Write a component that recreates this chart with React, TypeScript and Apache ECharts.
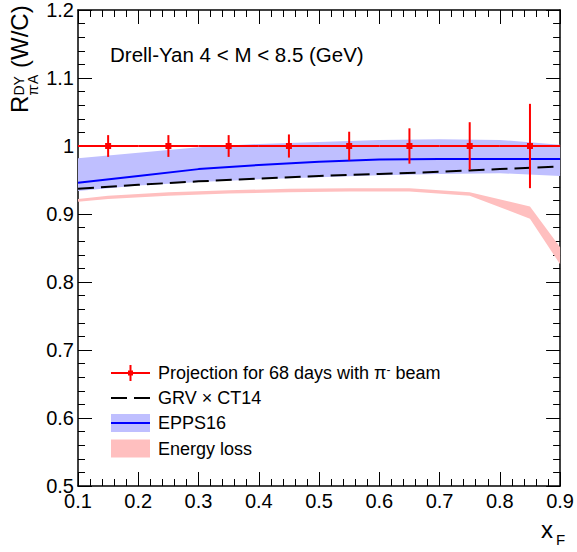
import React, { useEffect, useRef } from "react";
import * as echarts from "echarts";

// ---- data ----
const pointX = [0.15, 0.25, 0.35, 0.45, 0.55, 0.65, 0.75, 0.85];
const pointY = [1, 1, 1, 1, 1, 1, 1, 1];
const pointErrX = [0.05, 0.05, 0.05, 0.05, 0.05, 0.05, 0.05, 0.05];
const pointErrY = [0.016, 0.016, 0.016, 0.017, 0.021, 0.026, 0.035, 0.062];

const curveX = [0.1, 0.2, 0.3, 0.4, 0.5, 0.6, 0.7, 0.8, 0.9];
const grvCt14 = [0.937, 0.943, 0.948, 0.952, 0.956, 0.959, 0.962, 0.966, 0.97];
const eppsCentral = [0.946, 0.956, 0.966, 0.972, 0.977, 0.98, 0.981, 0.981, 0.981];
const eppsLow = [0.934, 0.942, 0.947, 0.951, 0.954, 0.957, 0.959, 0.96, 0.956];
const eppsHigh = [0.982, 0.99, 0.998, 1.003, 1.006, 1.009, 1.01, 1.009, 1.002];

const elossX = [0.1, 0.15, 0.25, 0.35, 0.45, 0.55, 0.65, 0.75, 0.85, 0.9];
const elossLow = [0.918, 0.922, 0.927, 0.93, 0.932, 0.933, 0.933, 0.927, 0.893, 0.826];
const elossHigh = [0.922, 0.927, 0.932, 0.935, 0.937, 0.938, 0.938, 0.932, 0.911, 0.851];

const xMin = 0.1, xMax = 0.9, xStep = 0.1;
const yMin = 0.5, yMax = 1.2, yStep = 0.1;

const legendLabels = ["Projection for 68 days with π", "GRV × CT14", "EPPS16", "Energy loss"];
const titleText = "Drell-Yan 4 < M < 8.5 (GeV)";

const FONT = "Liberation Sans, Arial, Helvetica, sans-serif";
const RED = "#ff0000";
const BLUE = "#0000ff";
const BLUE_BAND = "rgb(191,191,255)";
const RED_BAND = "rgb(255,191,191)";

function bandSeries(name: string, xs: number[], lo: number[], hi: number[], color: string, z: number) {
  return {
    name,
    type: "custom",
    coordinateSystem: "cartesian2d",
    z,
    silent: true,
    data: xs.map((x, i) => [x, lo[i], hi[i]]),
    encode: { x: 0, y: [1, 2] },
    renderItem: (params: any, api: any) => {
      if (params.dataIndex !== 0) return null;
      const pts: number[][] = [];
      for (let i = 0; i < xs.length; i++) pts.push(api.coord([xs[i], hi[i]]));
      for (let i = xs.length - 1; i >= 0; i--) pts.push(api.coord([xs[i], lo[i]]));
      return { type: "polygon", shape: { points: pts }, style: { fill: color, stroke: null } };
    },
  };
}

function axisCommon() {
  return {
    axisLine: { show: true, onZero: false, lineStyle: { color: "#000", width: 1.5 } },
    axisTick: { show: true, inside: true, length: 14, lineStyle: { color: "#000", width: 1 } },
    minorTick: { show: true, splitNumber: 5, length: 7, lineStyle: { color: "#000", width: 1 } },
    splitLine: { show: false },
    minorSplitLine: { show: false },
  };
}

export default function App() {
  const ref = useRef<HTMLDivElement>(null);
  useEffect(() => {
    if (!ref.current) return;
    const chart = echarts.init(ref.current, undefined, { renderer: "svg" });

    const legendRows = [373, 398, 423, 448.5];
    const lx0 = 111, lx1 = 150, ltx = 158;
    const LF = 18;

    const option: any = {
      animation: false,
      backgroundColor: "#fff",
      textStyle: { fontFamily: FONT },
      grid: { left: 78, right: 14, top: 6, bottom: 66, containLabel: false },
      xAxis: [
        {
          type: "value", position: "bottom", min: xMin, max: xMax, interval: xStep,
          ...axisCommon(),
          axisLabel: { show: true, color: "#000", fontSize: 20, fontFamily: FONT, margin: 5, showMinLabel: true, showMaxLabel: true },
        },
        {
          type: "value", position: "top", min: xMin, max: xMax, interval: xStep,
          ...axisCommon(),
          axisLabel: { show: false },
        },
      ],
      yAxis: [
        {
          type: "value", position: "left", min: yMin, max: yMax, interval: yStep,
          ...axisCommon(),
          axisLabel: { show: true, color: "#000", fontSize: 20, fontFamily: FONT, margin: 4, showMinLabel: true, showMaxLabel: true },
        },
        {
          type: "value", position: "right", min: yMin, max: yMax, interval: yStep,
          ...axisCommon(),
          axisLabel: { show: false },
        },
      ],
      series: [
        bandSeries("EPPS16 band", curveX, eppsLow, eppsHigh, BLUE_BAND, 1),
        {
          name: "EPPS16", type: "line", z: 2, symbol: "none", silent: true,
          data: curveX.map((x, i) => [x, eppsCentral[i]]),
          lineStyle: { color: BLUE, width: 2 },
        },
        {
          name: "GRV x CT14", type: "line", z: 3, symbol: "none", silent: true,
          data: curveX.map((x, i) => [x, grvCt14[i]]),
          lineStyle: { color: "#000", width: 2, type: [16, 7] },
        },
        bandSeries("Energy loss", elossX, elossLow, elossHigh, RED_BAND, 4),
        {
          name: "Projection", type: "custom", coordinateSystem: "cartesian2d", z: 5, silent: true,
          data: pointX.map((x, i) => [x, pointY[i], pointErrX[i], pointErrY[i]]),
          encode: { x: 0, y: 1 },
          renderItem: (params: any, api: any) => {
            const x = api.value(0), y = api.value(1), ex = api.value(2), ey = api.value(3);
            const c = api.coord([x, y]);
            const l = api.coord([x - ex, y]);
            const r = api.coord([x + ex, y]);
            const t = api.coord([x, y + ey]);
            const b = api.coord([x, y - ey]);
            return {
              type: "group",
              children: [
                { type: "line", shape: { x1: l[0], y1: l[1], x2: r[0], y2: r[1] }, style: { stroke: RED, lineWidth: 2 } },
                { type: "line", shape: { x1: t[0], y1: t[1], x2: b[0], y2: b[1] }, style: { stroke: RED, lineWidth: 2 } },
                { type: "rect", shape: { x: c[0] - 3, y: c[1] - 3, width: 6, height: 6 }, style: { fill: RED } },
              ],
            };
          },
        },
      ],
      graphic: [
        // title
        { type: "text", x: 110, y: 54, style: { text: titleText, fontSize: 20.5, fontFamily: FONT, fill: "#000", verticalAlign: "middle", align: "left" } },
        // y axis title (rotated)
        {
          type: "group", x: 28, y: 113, rotation: Math.PI / 2,
          children: [
            { type: "text", x: 0, y: -8.4, style: { text: "R", fontSize: 24, fontFamily: FONT, fill: "#000", verticalAlign: "middle", align: "left" } },
            { type: "text", x: 17.5, y: -9, style: { text: "DY", fontSize: 14, fontFamily: FONT, fill: "#000", verticalAlign: "middle", align: "left" } },
            { type: "text", x: 17.5, y: 4.5, style: { text: "π", fontSize: 14, fontFamily: FONT, fill: "#000", verticalAlign: "middle", align: "left" } },
            { type: "text", x: 25.5, y: 1, style: { text: "-", fontSize: 10, fontFamily: FONT, fill: "#000", verticalAlign: "middle", align: "left" } },
            { type: "text", x: 29, y: 4.5, style: { text: "A", fontSize: 14, fontFamily: FONT, fill: "#000", verticalAlign: "middle", align: "left" } },
            { type: "text", x: 45, y: -8.4, style: { text: "(W/C)", fontSize: 24, fontFamily: FONT, fill: "#000", verticalAlign: "middle", align: "left" } },
          ],
        },
        // x axis title
        { type: "text", x: 541, y: 529, style: { text: "x", fontSize: 24, fontFamily: FONT, fill: "#000", verticalAlign: "middle", align: "left" } },
        { type: "text", x: 556, y: 539.5, style: { text: "F", fontSize: 15, fontFamily: FONT, fill: "#000", verticalAlign: "middle", align: "left" } },
        // legend row 1
        { type: "line", shape: { x1: lx0, y1: legendRows[0], x2: lx1, y2: legendRows[0] }, style: { stroke: RED, lineWidth: 2 } },
        { type: "line", shape: { x1: (lx0 + lx1) / 2, y1: legendRows[0] - 8, x2: (lx0 + lx1) / 2, y2: legendRows[0] + 8 }, style: { stroke: RED, lineWidth: 2 } },
        { type: "rect", shape: { x: (lx0 + lx1) / 2 - 2.5, y: legendRows[0] - 2.5, width: 5, height: 5 }, style: { fill: RED } },
        {
          type: "text", x: ltx, y: legendRows[0],
          style: {
            text: "{a|" + legendLabels[0] + "}{s|-}{a| beam}",
            fontFamily: FONT, verticalAlign: "middle", align: "left",
            rich: {
              a: { fontSize: LF, fontFamily: FONT, fill: "#000", color: "#000", verticalAlign: "bottom" },
              s: { fontSize: 12, fontFamily: FONT, fill: "#000", color: "#000", verticalAlign: "top" },
            },
          },
        },
        // legend row 2
        { type: "line", shape: { x1: lx0, y1: legendRows[1], x2: lx1, y2: legendRows[1] }, style: { stroke: "#000", lineWidth: 2, lineDash: [16, 7] } },
        { type: "text", x: ltx, y: legendRows[1], style: { text: legendLabels[1], fontSize: LF, fontFamily: FONT, fill: "#000", verticalAlign: "middle", align: "left" } },
        // legend row 3
        { type: "rect", shape: { x: lx0, y: legendRows[2] - 9, width: lx1 - lx0, height: 18 }, style: { fill: BLUE_BAND } },
        { type: "line", shape: { x1: lx0, y1: legendRows[2], x2: lx1, y2: legendRows[2] }, style: { stroke: BLUE, lineWidth: 2 } },
        { type: "text", x: ltx, y: legendRows[2], style: { text: legendLabels[2], fontSize: LF, fontFamily: FONT, fill: "#000", verticalAlign: "middle", align: "left" } },
        // legend row 4
        { type: "rect", shape: { x: lx0, y: legendRows[3] - 9, width: lx1 - lx0, height: 18 }, style: { fill: RED_BAND } },
        { type: "text", x: ltx, y: legendRows[3], style: { text: legendLabels[3], fontSize: LF, fontFamily: FONT, fill: "#000", verticalAlign: "middle", align: "left" } },
      ],
    };
    chart.setOption(option);
    return () => chart.dispose();
  }, []);
  return <div ref={ref} style={{ position: "absolute", left: 0, top: 0, width: 577, height: 552, background: "#fff" }} />;
}
